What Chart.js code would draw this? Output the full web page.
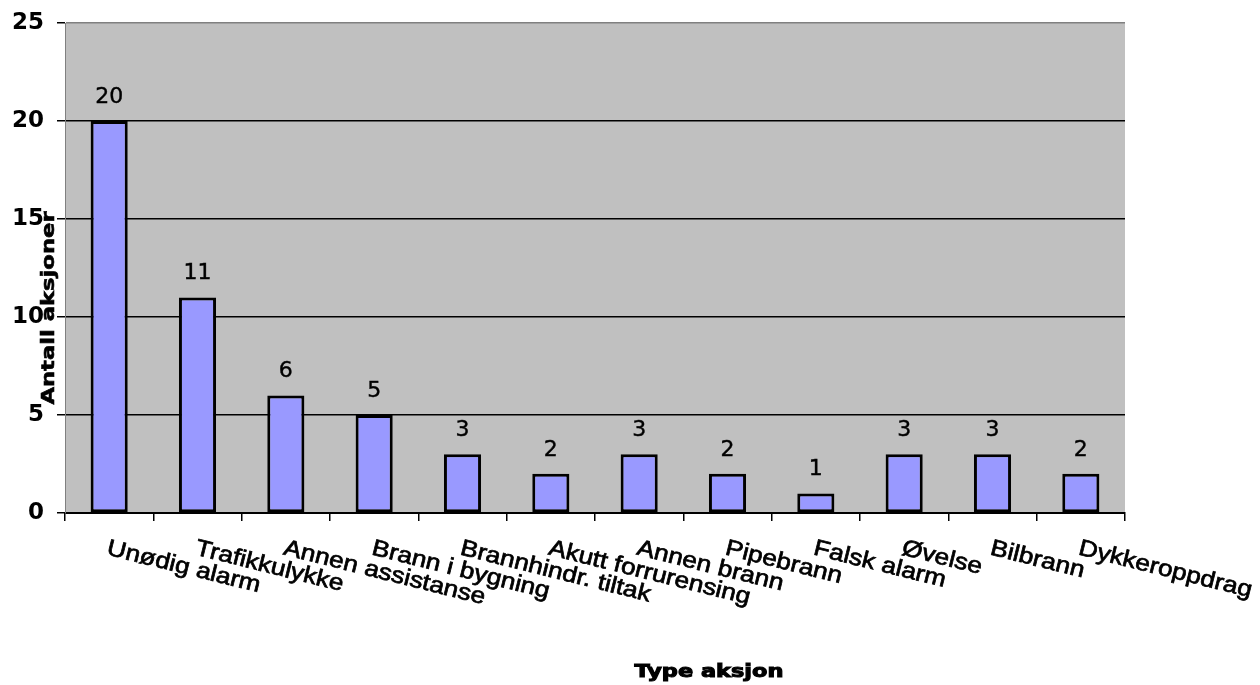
<!DOCTYPE html>
<html>
<head>
<meta charset="utf-8">
<script src="https://cdn.jsdelivr.net/npm/chart.js@4.4.1/dist/chart.umd.min.js"></script>
<style>
  html, body { margin: 0; padding: 0; background: #fff; }
  #wrap { width: 1260px; height: 685px; position: relative; }
</style>
</head>
<body>
<div id="wrap"><canvas id="aksjonChart"></canvas></div>
<script>
var categories = ['Unødig alarm', 'Trafikkulykke', 'Annen assistanse', 'Brann i bygning',
    'Brannhindr. tiltak', 'Akutt forrurensing', 'Annen brann', 'Pipebrann',
    'Falsk alarm', 'Øvelse', 'Bilbrann', 'Dykkeroppdrag'];
var counts = [20, 11, 6, 5, 3, 2, 3, 2, 1, 3, 3, 2];
var yMax = 25;
var yStep = 5;

// draw text with a horizontal stretch (and optional stroke to make it heavier)
function stretchText(ctx, text, x, y, font, sx, angle, align, baseline, heavy) {
    ctx.save();
    ctx.translate(x, y);
    ctx.rotate(angle || 0);
    ctx.scale(sx, 1);
    ctx.font = font;
    ctx.fillStyle = '#000';
    ctx.strokeStyle = '#000';
    ctx.textAlign = align || 'left';
    ctx.textBaseline = baseline || 'alphabetic';
    ctx.fillText(text, 0, 0);
    if (heavy) {
        ctx.lineWidth = heavy;
        ctx.strokeText(text, 0, 0);
    }
    ctx.restore();
}

var chartDecor = {
    id: 'chartDecor',
    beforeDraw: function (chart) {
        var a = chart.chartArea;
        var ctx = chart.ctx;
        ctx.save();
        ctx.fillStyle = '#c0c0c0';
        ctx.fillRect(a.left, a.top, a.right - a.left, a.bottom - a.top);
        ctx.restore();
    },
    afterDatasetsDraw: function (chart) {
        var ctx = chart.ctx;
        var xs = chart.scales.x;
        var ys = chart.scales.y;
        var meta = chart.getDatasetMeta(0);

        // value above each bar
        meta.data.forEach(function (bar, i) {
            stretchText(ctx, String(counts[i]), bar.x, ys.getPixelForValue(counts[i]) - 18,
                '22px "DejaVu Sans"', 1.0, 0, 'center', 'alphabetic', 0.4);
        });

        // slanted category names
        categories.forEach(function (name, i) {
            var x = xs.getPixelForValue(i) + 1;
            stretchText(ctx, name, x, xs.bottom + 16, '23px "Liberation Sans"', 1.14,
                14 * Math.PI / 180, 'left', 'top', 0.7);
        });

        // axis titles
        stretchText(ctx, 'Type aksjon', 709, 677, 'bold 17px "DejaVu Sans"', 1.32, 0, 'center', 'alphabetic', 1);
        stretchText(ctx, 'Antall aksjoner', 54, 308, 'bold 18px "DejaVu Sans"', 1.26,
            -Math.PI / 2, 'center', 'alphabetic', 0.6);
    }
};

var ctx = document.getElementById('aksjonChart').getContext('2d');
new Chart(ctx, {
    type: 'bar',
    data: {
        labels: categories,
        datasets: [{
            data: counts,
            backgroundColor: '#9999ff',
            borderColor: '#000000',
            borderWidth: 3,
            borderSkipped: false,
            barPercentage: 0.42,
            categoryPercentage: 1.0
        }]
    },
    options: {
        responsive: true,
        maintainAspectRatio: false,
        animation: false,
        layout: {
            padding: { left: 0, right: 135, top: 23, bottom: 164 }
        },
        plugins: {
            legend: { display: false },
            tooltip: { enabled: false }
        },
        scales: {
            x: {
                offset: true,
                ticks: { display: false },
                grid: {
                    offset: true,
                    drawOnChartArea: false,
                    drawTicks: true,
                    tickLength: 8,
                    color: '#000',
                    lineWidth: 1.5
                },
                border: { display: true, color: '#000', width: 2 },
                afterFit: function (scale) { scale.height = 8; }
            },
            y: {
                min: 0,
                max: yMax,
                ticks: {
                    stepSize: yStep,
                    padding: 13,
                    color: '#000',
                    font: { family: 'DejaVu Sans', size: 23, weight: 'bold' }
                },
                grid: {
                    color: function (c) { return c.tick && c.tick.value === yMax ? '#808080' : '#000'; },
                    tickColor: '#000',
                    lineWidth: 1.5,
                    tickLength: 8
                },
                border: { display: true, color: '#808080', width: 1 },
                afterFit: function (scale) {
                    scale.width = 65;
                    scale.paddingTop = 0;
                    scale.paddingBottom = 0;
                }
            }
        }
    },
    plugins: [chartDecor]
});
</script>
</body>
</html>
